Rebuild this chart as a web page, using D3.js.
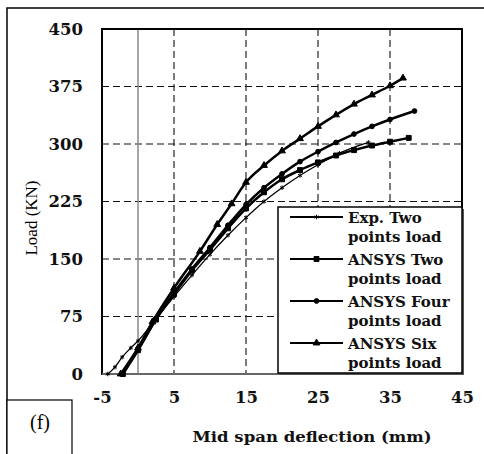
<!DOCTYPE html>
<html>
<head>
<meta charset="utf-8">
<script src="https://cdnjs.cloudflare.com/ajax/libs/d3/7.8.5/d3.min.js"></script>
<style>
  body { margin: 0; background: #fff; }
  svg { display: block; }
</style>
</head>
<body>
<div id="chart"></div>
<script>
// values (deflection in mm, load in kN)
const xTicks = [-5, 5, 15, 25, 35, 45];
const yTicks = [0, 75, 150, 225, 300, 375, 450];

const expDefl = [-4.2, -3.2, -2.2, -1, 0, 2.5, 5, 7.5, 10, 12.5, 15, 17.5, 20, 22.5, 25, 28, 32];
const expLoad = [0, 9, 22, 34, 43, 72, 101, 129, 156, 181, 204, 225, 243, 259, 273, 288, 302];

const twoDefl = [-2.1, 0, 2.5, 5, 7.5, 10, 12.5, 15, 17.5, 20, 22.5, 25, 27.5, 30, 32.5, 35, 37.6];
const twoLoad = [0, 31, 71, 104, 135, 162, 190, 216, 237, 254, 266, 276, 285, 292, 298, 303, 308];

const fourDefl = [-2.2, 0, 2.5, 5, 7.5, 10, 12.5, 15, 17.5, 20, 22.5, 25, 27.5, 30, 32.5, 35, 38.4];
const fourLoad = [0, 32, 72, 106, 137, 165, 194, 221, 243, 261, 277, 290, 302, 313, 323, 332, 343];

const sixDefl = [-2.4, 0, 2, 5, 8.6, 11, 13, 15, 17.5, 20, 22.5, 25, 27.5, 30, 32.5, 35, 36.8];
const sixLoad = [0, 34, 68, 112, 160, 195, 222, 250, 272, 291, 307, 323, 338, 352, 364, 376, 386];

const seriesNames = [["Exp. Two", "points load"], ["ANSYS Two", "points load"],
                     ["ANSYS Four", "points load"], ["ANSYS Six", "points load"]];

const width = 484, height = 454;
const padL = 102, padR = 462, padT = 29, padB = 374;

const svg = d3.select("#chart").append("svg")
  .attr("width", width)
  .attr("height", height);

// outer frame of the figure panel
svg.append("rect")
  .attr("x", 7).attr("y", 8)
  .attr("width", 500).attr("height", 470)
  .attr("fill", "white")
  .attr("stroke", "black")
  .attr("stroke-width", 1.5);

const x = d3.scaleLinear().domain([-5, 45]).range([padL, padR]);
const y = d3.scaleLinear().domain([0, 450]).range([padB, padT]);

// dashed grid
svg.append("g")
  .selectAll("line")
  .data(xTicks.slice(1, -1))
  .enter().append("line")
  .attr("x1", d => x(d)).attr("x2", d => x(d))
  .attr("y1", padT).attr("y2", padB)
  .attr("stroke", "#111")
  .attr("stroke-width", 1.1)
  .attr("stroke-dasharray", "7,4");

svg.append("g")
  .selectAll("line")
  .data(yTicks.slice(1, -1))
  .enter().append("line")
  .attr("x1", padL).attr("x2", padR)
  .attr("y1", d => y(d)).attr("y2", d => y(d))
  .attr("stroke", "#111")
  .attr("stroke-width", 1.1)
  .attr("stroke-dasharray", "7,4");

// x = 0 line
svg.append("line")
  .attr("x1", x(0)).attr("x2", x(0))
  .attr("y1", padT).attr("y2", padB)
  .attr("stroke", "#8a8a8a")
  .attr("stroke-width", 1.5);

// plot border
svg.append("rect")
  .attr("x", padL).attr("y", padT)
  .attr("width", padR - padL).attr("height", padB - padT)
  .attr("fill", "none")
  .attr("stroke", "black")
  .attr("stroke-width", 2);
svg.append("line")
  .attr("x1", padL).attr("x2", padR)
  .attr("y1", padB).attr("y2", padB)
  .attr("stroke", "#666")
  .attr("stroke-width", 2);

// axes, labels only
const xAxis = d3.axisBottom(x).tickValues(xTicks).tickSize(0).tickPadding(17)
  .tickFormat(d => String(d));
svg.append("g")
  .attr("transform", `translate(0, ${padB})`)
  .call(xAxis)
  .call(g => g.select(".domain").remove())
  .selectAll("text")
  .attr("font-family", "DejaVu Serif")
  .attr("font-weight", "bold")
  .attr("font-size", 16.5)
  .attr("fill", "#111");

const yAxis = d3.axisLeft(y).tickValues(yTicks).tickSize(0).tickPadding(19);
svg.append("g")
  .attr("transform", `translate(${padL}, 0)`)
  .call(yAxis)
  .call(g => g.select(".domain").remove())
  .selectAll("text")
  .attr("font-family", "DejaVu Serif")
  .attr("font-weight", "bold")
  .attr("font-size", 16.5)
  .attr("fill", "#111");

// axis titles
svg.append("text")
  .attr("x", 312).attr("y", 442)
  .attr("text-anchor", "middle")
  .attr("font-family", "DejaVu Serif")
  .attr("font-weight", "bold")
  .attr("font-size", 15)
  .attr("textLength", 239)
  .attr("lengthAdjust", "spacingAndGlyphs")
  .attr("fill", "#111")
  .text("Mid span deflection (mm)");

svg.append("text")
  .attr("transform", "translate(37, 218) rotate(-90)")
  .attr("text-anchor", "middle")
  .attr("font-family", "Liberation Serif")
  .attr("font-size", 17)
  .text("Load (KN)");

// curves
const series = [
  { defl: expDefl, load: expLoad, sym: d3.symbolAsterisk, size: 14, w: 1.3, fill: "none" },
  { defl: twoDefl, load: twoLoad, sym: d3.symbolSquare, size: 24, w: 2.5, fill: "black" },
  { defl: fourDefl, load: fourLoad, sym: d3.symbolCircle, size: 18, w: 2.5, fill: "black" },
  { defl: sixDefl, load: sixLoad, sym: d3.symbolTriangle, size: 20, w: 2.5, fill: "black" }
];

const line = d3.line()
  .x(d => x(d[0]))
  .y(d => y(d[1]))
  .curve(d3.curveMonotoneX);

series.forEach(s => {
  const pts = s.defl.map((d, i) => [d, s.load[i]]);
  svg.append("path")
    .datum(pts)
    .attr("d", line)
    .attr("fill", "none")
    .attr("stroke", "black")
    .attr("stroke-width", s.w);
  svg.append("g")
    .selectAll("path")
    .data(pts)
    .enter().append("path")
    .attr("transform", d => `translate(${x(d[0])}, ${y(d[1])})`)
    .attr("d", d3.symbol().type(s.sym).size(s.size))
    .attr("fill", s.fill)
    .attr("stroke", "black")
    .attr("stroke-width", 1);
});

// legend
const lg = svg.append("g").attr("transform", "translate(278, 207)");
lg.append("rect")
  .attr("x", 2).attr("y", 2).attr("width", 184).attr("height", 166)
  .attr("fill", "#555");
lg.append("rect")
  .attr("x", 0).attr("y", 0).attr("width", 184).attr("height", 166)
  .attr("fill", "white")
  .attr("stroke", "black")
  .attr("stroke-width", 1.5);

seriesNames.forEach((nm, i) => {
  const cy = 10 + i * 42;
  lg.append("line")
    .attr("x1", 12).attr("x2", 65)
    .attr("y1", cy).attr("y2", cy)
    .attr("stroke", "black")
    .attr("stroke-width", 2);
  lg.append("path")
    .attr("transform", `translate(38.5, ${cy})`)
    .attr("d", d3.symbol().type(series[i].sym).size(series[i].size))
    .attr("fill", series[i].fill)
    .attr("stroke", "black")
    .attr("stroke-width", 1);
  lg.selectAll(null)
    .data(nm)
    .enter().append("text")
    .attr("x", 70)
    .attr("y", (d, j) => cy + 5.5 + j * 19.5)
    .attr("font-family", "DejaVu Serif")
    .attr("font-weight", "bold")
    .attr("font-size", 15)
    .attr("fill", "#111")
    .text(d => d);
});

// panel tag
svg.append("rect")
  .attr("x", 7).attr("y", 400)
  .attr("width", 65).attr("height", 70)
  .attr("fill", "white")
  .attr("stroke", "black")
  .attr("stroke-width", 1.2);
svg.append("text")
  .attr("x", 40).attr("y", 429)
  .attr("text-anchor", "middle")
  .attr("font-family", "Liberation Serif")
  .attr("font-size", 20)
  .text("(f)");
</script>
</body>
</html>
